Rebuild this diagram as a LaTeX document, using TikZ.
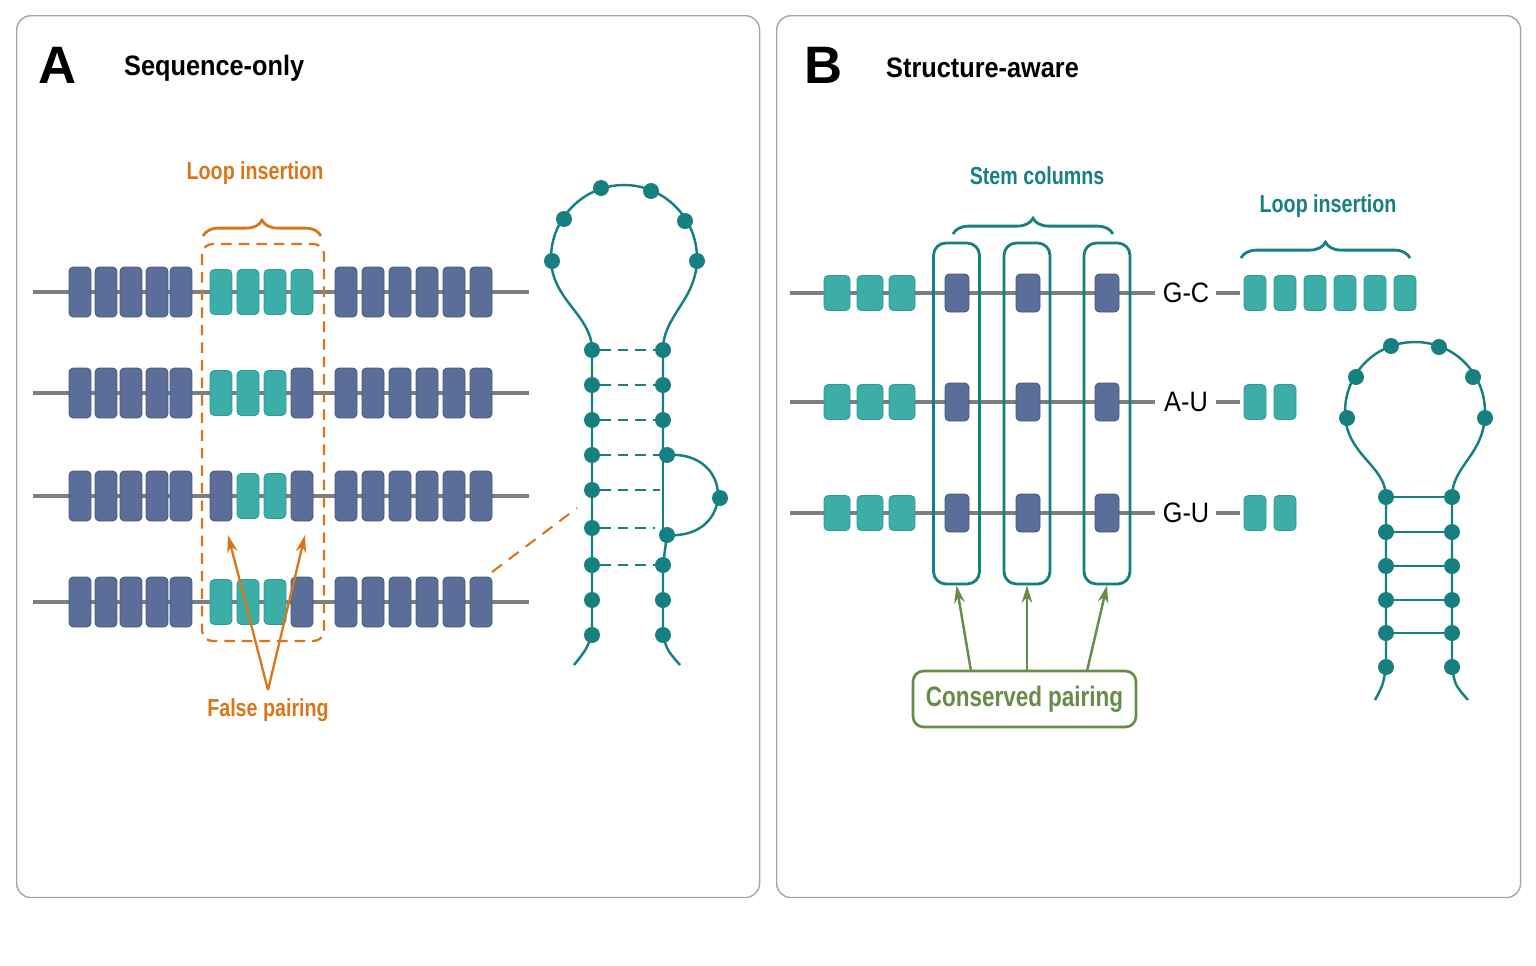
\documentclass[tikz,border=0pt]{standalone}
\usepackage{fontspec}
\setmainfont{Liberation Sans}
\usetikzlibrary{decorations.pathreplacing,arrows.meta}
\definecolor{dk}{HTML}{5A6E99}
\definecolor{dkb}{HTML}{46587F}
\definecolor{tl}{HTML}{3DADA8}
\definecolor{tlb}{HTML}{2E9A95}
\definecolor{tline}{HTML}{167F7F}
\definecolor{org}{HTML}{D9761A}
\definecolor{grn}{HTML}{668C48}
\definecolor{gr}{HTML}{7A7F85}
\begin{document}
\begin{tikzpicture}[x=0.02cm,y=-0.02cm,
 frame/.style={draw=gray!70,rounded corners=8pt,line width=0.8pt},
 bkD/.style={fill=dk,draw=dkb,line width=0.5pt,rounded corners=2.5pt,minimum width=0.44cm,minimum height=1cm,inner sep=0},
 bkT/.style={bkD,fill=tl,draw=tlb,minimum height=0.9cm},
 sD/.style={bkD,minimum width=0.48cm,minimum height=0.76cm},
 sT/.style={bkD,fill=tl,draw=tlb,minimum width=0.52cm,minimum height=0.7cm},
 rT/.style={bkD,fill=tl,draw=tlb,minimum width=0.44cm,minimum height=0.7cm},
 bb/.style={gr,line width=2.2pt},
 dot/.style={circle,fill=tline,inner sep=0,minimum size=0.32cm},
 strand/.style={tline,line width=1.4pt},
 lbl/.style={font=\bfseries\fontsize{16}{19}\selectfont\addfontfeature{FakeStretch=0.9}},
 tag/.style={font=\bfseries\fontsize{14}{16}\selectfont\addfontfeature{FakeStretch=0.8}},
 brace/.style={decorate,decoration={brace,amplitude=9pt},line width=1.6pt}]
\useasboundingbox (0,0) rectangle (1536,965);
\node[frame,minimum width=14.86cm,minimum height=17.64cm,anchor=north west] (fa) at (16,15) {};
\node[frame,minimum width=14.88cm,minimum height=17.64cm,anchor=north west] (fb) at (776,15) {};
\node[font=\bfseries\fontsize{30}{32}\selectfont] (la) at (58,65) {A};
\node[lbl,anchor=west] (ta) at (118,68) {Sequence-only};
\node[font=\bfseries\fontsize{30}{32}\selectfont] (lb) at (824,65) {B};
\node[lbl,anchor=west] (tb) at (880,68) {Structure-aware};
% panel A rows
\foreach \y/\a/\b/\c/\d [count=\r] in {292/T/T/T/T,393/T/T/T/D,496/D/T/T/D,602/T/T/T/D}{
 \coordinate (aL\r) at (33,\y); \coordinate (aR\r) at (529,\y);
 \draw[bb] (aL\r) -- (aR\r);
 \foreach \x [count=\i] in {80,106,131,157,181} \node[bkD] (a\r l\i) at (\x,\y) {};
 \foreach \x [count=\i] in {346,373,400,427,454,481} \node[bkD] (a\r r\i) at (\x,\y) {};
 \node[bk\a] (a\r m1) at (221,\y) {};
 \node[bk\b] (a\r m2) at (248,\y) {};
 \node[bk\c] (a\r m3) at (275,\y) {};
 \node[bk\d] (a\r m4) at (302,\y) {};
}
\draw[org,dashed,dash pattern=on 6pt off 4pt,line width=1.3pt,rounded corners=6pt] (202,244) rectangle (324,641);
\draw[org,brace] (203,236) -- (321,236);
\node[tag,text=org] (li) at (255,173) {Loop insertion};
\node[tag,text=org] (fp) at (268,710) {False pairing};
\coordinate (fo) at (268,690);
\coordinate (f1) at (228,535); \coordinate (f2) at (305,535);
\draw[org,line width=1.3pt,-{Stealth[length=10pt,width=6pt]}] (fo) -- (f1);
\draw[org,line width=1.3pt,-{Stealth[length=10pt,width=6pt]}] (fo) -- (f2);
\coordinate (z1) at (492,572); \coordinate (z2) at (577,508);
\draw[org,dashed,dash pattern=on 7pt off 5pt,line width=1.2pt] (z1) -- (z2);
% hairpin A
\draw[strand] (574,665) .. controls (586,650) .. (592,635) -- (592,350) .. controls (592,315) and (551,300) .. (551,258) .. controls (551,218) and (584,185) .. (624,185) .. controls (664,185) and (697,218) .. (697,258) .. controls (697,300) and (663,315) .. (663,350) -- (663,455);
\draw[strand] (667,455) .. controls (735,450) and (735,540) .. (667,535) -- (663,565) -- (663,635) .. controls (667,650) .. (680,665);
\draw[strand] (663,455) -- (663,535);
\foreach \p [count=\i] in {(601,188),(651,191),(685,221),(697,261),(552,261),(564,219)} \node[dot] (ha\i) at \p {};
\foreach \y [count=\i] in {350,385,420,455,490,528,565,600,635} \node[dot] (hl\i) at (592,\y) {};
\foreach \y [count=\i] in {350,385,420} \node[dot] (hr\i) at (663,\y) {};
\node[dot] (hr4) at (667,455) {};
\node[dot] (hr6) at (667,535) {};
\node[dot] (hr7) at (663,565) {};
\node[dot] (hr8) at (663,600) {};
\node[dot] (hr9) at (663,635) {};
\node[dot] (hb) at (720,498) {};
\foreach \i in {1,2,3,4,7} \draw[tline,line width=1.6pt,dash pattern=on 6pt off 4pt] (hl\i) -- (hr\i);
\coordinate (e5) at (660,490); \coordinate (e6) at (655,528);
\draw[tline,line width=1.6pt,dash pattern=on 6pt off 4pt] (hl5) -- (e5);
\draw[tline,line width=1.6pt,dash pattern=on 6pt off 4pt] (hl6) -- (e6);
% panel B rows
\foreach \y/\t/\n [count=\r] in {293/G-C/6,402/A-U/2,513/G-U/2}{
 \coordinate (bL\r) at (790,\y); \coordinate (bE\r) at (1240,\y);
 \draw[bb] (bL\r) -- (1155,\y);
 \foreach \x [count=\i] in {837,870,902} \node[sT] (b\r t\i) at (\x,\y) {};
 \foreach \x [count=\i] in {957,1028,1107} \node[sD] (b\r d\i) at (\x,\y) {};
 \node[font=\fontsize{16}{19}\selectfont\addfontfeature{FakeStretch=0.9}] (bp\r) at (1186,\y) {\t};
 \draw[bb] (1216,\y) -- (bE\r);
 \foreach \i in {1,...,\n} \node[rT] (b\r r\i) at ({1255+(\i-1)*30},\y) {};
}
\foreach \x [count=\i] in {956.5,1027,1107}
 \node[draw=tline,line width=1.6pt,rounded corners=7pt,minimum width=0.92cm,minimum height=6.82cm] (col\i) at (\x,413.5) {};
\draw[tline,brace] (953,234) -- (1113,234);
\node[tag,text=tline] (sc) at (1037,176) {Stem columns};
\draw[tline,brace] (1241,258) -- (1410,258);
\node[tag,text=tline] (lib) at (1328,206) {Loop insertion};
\node[text=grn,draw=grn,line width=1.5pt,rounded corners=6pt,minimum width=4.46cm,minimum height=1.12cm,font=\bfseries\fontsize{16}{18}\selectfont\addfontfeature{FakeStretch=0.8}] (cp) at (1024.5,699) {Conserved pairing};
\coordinate (c1) at (971,671); \coordinate (c2) at (1027,671); \coordinate (c3) at (1087,671);
\foreach \i in {1,2,3} \draw[grn,line width=1.4pt,-{Stealth[length=10pt,width=6pt]}] (c\i) -- (col\i.south);
% hairpin B
\draw[strand] (1375,700) .. controls (1383,685) .. (1386,667) -- (1386,497) .. controls (1386,465) and (1345,455) .. (1345,412) .. controls (1345,373) and (1376,342) .. (1415,342) .. controls (1454,342) and (1485,373) .. (1485,412) .. controls (1485,455) and (1452,465) .. (1452,497) -- (1452,667) .. controls (1455,685) .. (1468,700);
\foreach \p [count=\i] in {(1391,346),(1439,347),(1473,377),(1485,418),(1347,418),(1356,377)} \node[dot] (hq\i) at \p {};
\foreach \y [count=\i] in {497,532,566,600,633,667}{
 \node[dot] (ql\i) at (1386,\y) {};
 \node[dot] (qr\i) at (1452,\y) {};
}
\foreach \i in {1,...,5} \draw[tline,line width=1.6pt] (ql\i) -- (qr\i);
\end{tikzpicture}
\end{document}
